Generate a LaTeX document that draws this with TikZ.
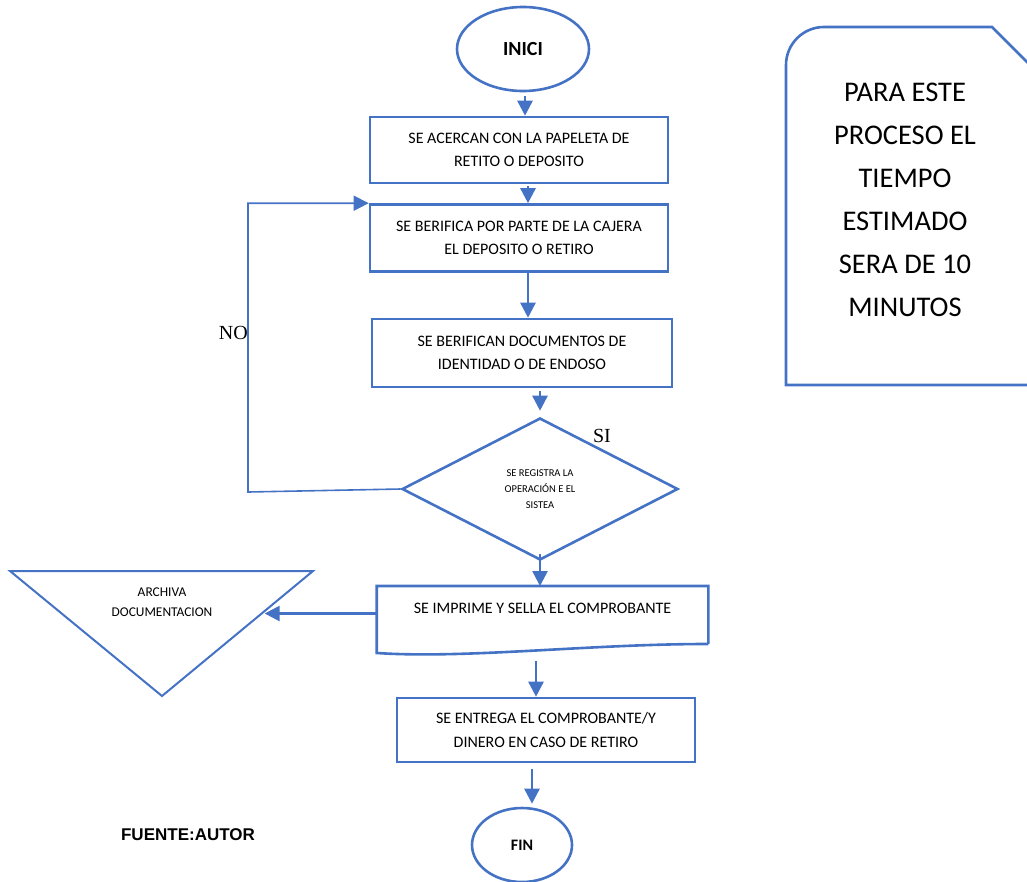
\documentclass[tikz,border=0pt]{standalone}
\usepackage{fontspec}
\setmainfont{Carlito}
\newfontfamily\serifnote{Liberation Serif}
\newfontfamily\arialfont{Liberation Sans}
\usetikzlibrary{arrows.meta,shapes.geometric,calc}
\definecolor{wordblue}{HTML}{4472C4}

\begin{document}
\begin{tikzpicture}
            [x=1pt,y=-1pt,
            >={Triangle[length=15pt,width=15pt]},
            every node/.style={inner sep=0pt,align=center,font=\fontsize{16}{23.5}\selectfont},
            shapeline/.style={draw=wordblue,line width=2.6pt},
            procbox/.style={shapeline,rectangle,minimum width=298pt,minimum height=66pt},
            decision/.style={shapeline,diamond,aspect=1.94,minimum width=276pt,minimum height=142pt,font=\fontsize{10.5}{16}\selectfont},
            terminal/.style={shapeline,ellipse,font=\bfseries\fontsize{20}{24}\selectfont},
            flow/.style={->,wordblue,line width=2.6pt},
            loopline/.style={->,wordblue,line width=1.6pt}
            ]
            \useasboundingbox (0,0) rectangle (1027,881);
            \clip (0,0) rectangle (1027,881);
            \node[terminal,minimum width=132pt,minimum height=84pt] (inici) at (523,49) {INICI};
            \node[procbox] (b1) at (519,150) {SE ACERCAN CON LA PAPELETA DE\\RETITO O DEPOSITO};
            \node[procbox,minimum height=67pt] (b2) at (519,238) {SE BERIFICA POR PARTE DE LA CAJERA\\EL DEPOSITO O RETIRO};
            \node[procbox,minimum width=300pt,minimum height=68pt] (b3) at (522,353) {SE BERIFICAN DOCUMENTOS DE\\IDENTIDAD O DE ENDOSO};
            \node[decision] (dec) at (540,489) {SE REGISTRA LA\\OPERACIÓN E EL\\SISTEA};
            \node[procbox,draw=none,minimum width=329pt,minimum height=0pt,inner ysep=16pt,text depth=22pt,anchor=north] (b4) at (542.5,586) {SE IMPRIME Y SELLA EL COMPROBANTE};
            \draw[shapeline] ([yshift=9pt]b4.south east) -- (b4.north east) -- (b4.north west) -- (b4.south west)
              .. controls +(90,6) and +(-120,0) .. ([yshift=9pt]b4.south east);
            \node[procbox,minimum height=64pt] (b5) at (546,730) {SE ENTREGA EL COMPROBANTE/Y\\DINERO EN CASO DE RETIRO};
            \node[terminal,minimum width=100pt,minimum height=74pt,font=\bfseries\fontsize{16}{19}\selectfont] (fin) at (522,845) {FIN};
            % archivo
            \draw[shapeline,line width=2pt] (10,571) coordinate (arTL) -- (313,571) coordinate (arTR) -- (162,696) coordinate (arB) -- cycle;
            \node[font=\fontsize{13.4}{20}\selectfont] (arch) at (162,602) {ARCHIVA\\DOCUMENTACION};
            % nota de tiempo
            \draw[shapeline] (1045,80) -- (992,27) -- (824,27) arc[start angle=270,end angle=180,radius=38] -- (786,385) -- (1045,385);
            \node[font=\fontsize{28.5}{43}\selectfont] (note) at (905,200) {PARA ESTE\\PROCESO EL\\TIEMPO\\ESTIMADO\\SERA DE 10\\MINUTOS};
            \node[font=\serifnote\fontsize{20}{24}\selectfont] (si) at (602,436) {SI};
            \node[font=\serifnote\fontsize{20}{24}\selectfont,anchor=east] (no) at (248,333) {NO};
            \node[font=\arialfont\bfseries\fontsize{17}{20}\selectfont] (fuente) at (188,835) {FUENTE:AUTOR};
            \coordinate (noC) at (248,492);
            \draw[flow,shorten <=4pt] ([xshift=2pt]inici.south) -- ([xshift=6pt]b1.north);
            \draw[flow,shorten <=2pt] ([xshift=9pt]b1.south) -- ([xshift=9pt]b2.north);
            \draw[flow] ([xshift=9pt]b2.south) -- ([xshift=6pt]b3.north);
            \draw[flow,shorten <=3pt,shorten >=6pt] ([xshift=18pt]b3.south) -- (dec.north);
            \draw[flow,shorten <=-7pt] (dec.south) -- ([xshift=-2.5pt]b4.north);
            \draw[loopline] (dec.west) -- (noC) |- (b2.north west);
            \draw[flow,shorten >=3pt] ([yshift=6pt]b4.west) -- ($(arTR)!0.34!(arB)$);
            \draw[flow,shorten <=8pt] ([xshift=-6.5pt]b4.south) -- ([xshift=-10pt]b5.north);
            \draw[flow,shorten <=6pt,shorten >=3pt] ([xshift=-14pt]b5.south) -- ([xshift=10pt]fin.north);
          \end{tikzpicture}
\end{document}
